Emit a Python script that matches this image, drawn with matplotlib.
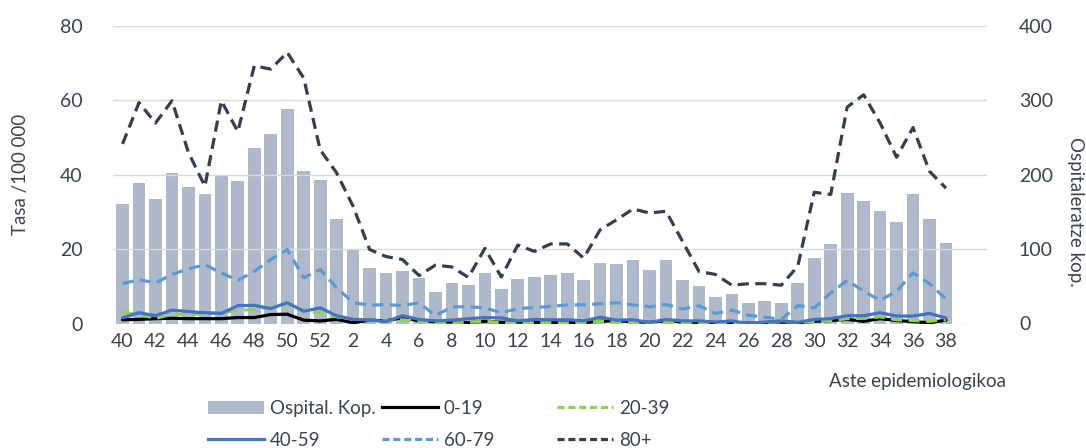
import matplotlib
matplotlib.use("Agg")
import matplotlib.pyplot as plt
from matplotlib.patches import Patch
from matplotlib.lines import Line2D

plt.rcParams['font.family'] = ['Lato', 'DejaVu Sans']

weeks = [str(w) for w in range(40, 53)] + [str(w) for w in range(1, 39)]

hosp = [160, 189, 167, 202, 184, 174, 199, 191, 236, 255, 289, 205, 193,
        141, 99, 74, 68, 70, 61, 43, 55, 52, 68,
        47, 60, 62, 65, 68, 59, 82, 80, 85, 72,
        86, 59, 51, 36, 39, 27, 30, 27, 55, 88,
        107, 175, 165, 151, 137, 174, 140, 108]

r80 = [48.3, 59.4, 53.9, 59.9, 46.0, 36.9, 59.9, 51.6, 69.3, 68.4, 72.9, 66.0, 46.7,
       40.5, 31.5, 19.9, 18.0, 17.2, 12.9, 15.7, 15.2, 12.4, 20.2,
       12.5, 21.1, 19.4, 21.4, 21.4, 17.6, 25.2, 27.9, 30.8, 29.7,
       30.2, 22.1, 14.0, 13.2, 10.3, 10.7, 10.7, 10.3, 15.4, 35.3,
       34.7, 58.2, 61.5, 53.9, 44.7, 52.7, 40.9, 36.4]

r60 = [10.7, 11.8, 10.9, 13.2, 14.7, 15.8, 13.6, 11.6, 14.0, 17.2, 19.9, 12.3, 14.5,
       9.6, 5.6, 4.9, 5.1, 4.8, 5.6, 2.1, 4.5, 4.5, 4.2,
       2.9, 4.0, 4.3, 4.6, 5.0, 5.0, 5.3, 5.6, 5.0, 4.5,
       5.1, 3.9, 4.8, 2.7, 3.6, 2.2, 1.7, 1.1, 4.8, 4.2,
       8.2, 11.6, 8.7, 6.2, 8.7, 13.6, 10.7, 6.6]

r40 = [1.5, 2.9, 2.1, 3.6, 3.2, 2.9, 2.7, 4.8, 4.9, 4.0, 5.6, 3.3, 4.2,
       2.1, 1.1, 1.0, 0.5, 2.1, 1.1, 0.7, 0.9, 1.3, 1.6,
       1.5, 0.7, 1.1, 1.0, 1.0, 0.7, 1.7, 0.9, 1.0, 0.3,
       1.1, 0.7, 0.7, 0.4, 0.7, 0.0, 0.4, 0.7, 0.3, 1.1,
       1.3, 2.1, 2.1, 2.9, 2.0, 2.0, 2.7, 1.5]

r0 = [1.0, 1.1, 1.3, 1.4, 1.3, 1.3, 1.3, 1.6, 1.6, 2.4, 2.5, 0.9, 0.7,
      1.1, 0.2, 0.9, 0.7, 1.6, 0.7, 0.5, 0.4, 0.2, 0.6,
      0.3, 0.4, 0.3, 0.3, 0.3, 0.2, 0.6, 0.7, 0.5, 0.3,
      0.8, 0.4, 0.3, 0.2, 0.2, 0.1, 0.2, 0.4, 0.2, 0.6,
      0.8, 1.1, 0.6, 1.3, 0.8, 0.5, 0.2, 0.9]

r20 = [3.0, 2.4, 1.4, 2.5, 2.4, 2.6, 3.0, 3.5, 3.8, 4.5, 5.2, 3.5, 2.8,
       1.8, 1.2, 0.9, 0.7, 1.0, 0.6, 0.2, 0.1, 0.3, 0.6,
       0.2, 0.1, 0.2, 0.2, 0.1, 0.2, 0.6, 0.4, 0.3, 0.2,
       0.4, 0.1, 0.1, 0.2, 0.3, 0.1, 0.2, 0.5, 0.3, 0.6,
       0.8, 1.3, 1.4, 1.8, 1.0, 0.8, 0.6, 1.0]

left_ticks = [0, 20, 40, 60, 80]
right_ticks = [0, 100, 200, 300, 400]

TXT = '#3a4352'
C_BAR = '#adb9ca'
C0 = '#000000'
C20 = '#92d050'
C40 = '#4472c4'
C60 = '#5b9bd5'
C80 = '#333f50'

W, H = 1086, 448
fig = plt.figure(figsize=(W/100, H/100), dpi=100)
ax = fig.add_axes([113/W, 1 - 323.5/H, (987-113)/W, (323.5-26)/H])
ax2 = ax.twinx()

x = list(range(len(weeks)))
ax2.bar(x, hosp, width=0.77, color=C_BAR, zorder=1)
ax2.set_ylim(0, 400)
ax2.set_yticks(right_ticks)

ax.set_zorder(ax2.get_zorder() + 1)
ax.patch.set_visible(False)

lw = 2.3
ax.plot(x, r0, color=C0, lw=lw, solid_capstyle='round', zorder=3)
ax.plot(x, r20, color=C20, lw=lw, dashes=(3.5, 2), zorder=3)
ax.plot(x, r40, color=C40, lw=lw, solid_capstyle='round', zorder=4)
ax.plot(x, r60, color=C60, lw=lw, dashes=(3.5, 2), zorder=4)
ax.plot(x, r80, color=C80, lw=lw, dashes=(3.5, 2), zorder=5)

ax.set_ylim(0, 80)
ax.set_yticks(left_ticks)
ax.set_xlim(-0.58, 52.49)
ax.set_xticks(x[::2])
ax.set_xticklabels(weeks[::2])

ax.grid(axis='y', color='#d9d9d9', lw=1.0, zorder=0)
ax.set_axisbelow(True)
for a in (ax, ax2):
    for s in a.spines.values():
        s.set_visible(False)
    a.tick_params(length=0, labelsize=14, colors=TXT)
ax.tick_params(axis='y', pad=22)
ax2.tick_params(axis='y', pad=23)
ax.tick_params(axis='x', pad=7)

ax.set_ylabel('Tasa /100 000', fontsize=13.5, color=TXT, va='center')
ax2.set_ylabel('Ospitaleratze kop.', fontsize=13.5, color=TXT, rotation=270, va='center')
ax.yaxis.set_label_coords(-(113 - 21) / (987 - 113), 0.5)
ax2.yaxis.set_label_coords(1 + (1075 - 987) / (987 - 113), (323.5 - 212) / (323.5 - 26))

fig.text(1006/W, 1 - 381/H, 'Aste epidemiologikoa', fontsize=13.5, color=TXT,
         ha='right', va='center')

cols = [
    ([Patch(facecolor=C_BAR), Line2D([], [], color=C40, lw=lw)], ['Ospital. Kop.', '40-59']),
    ([Line2D([], [], color=C0, lw=lw), Line2D([], [], color=C60, lw=lw, dashes=(2.2, 1.2))], ['0-19', '60-79']),
    ([Line2D([], [], color=C20, lw=lw, dashes=(2.2, 1.2)), Line2D([], [], color=C80, lw=lw, dashes=(2.2, 1.2))], ['20-39', '80+']),
]
xs = [208, 382, 557]
for (h, l), xp in zip(cols, xs):
    leg = fig.legend(h, l, loc='upper left', bbox_to_anchor=(xp/W, 1 - 400/H),
                     frameon=False, fontsize=13.5, handlelength=3.0, handletextpad=0.3,
                     labelspacing=0.8, borderpad=0, borderaxespad=0)
    for t in leg.get_texts():
        t.set_color(TXT)

fig.savefig('out.png', dpi=100)
